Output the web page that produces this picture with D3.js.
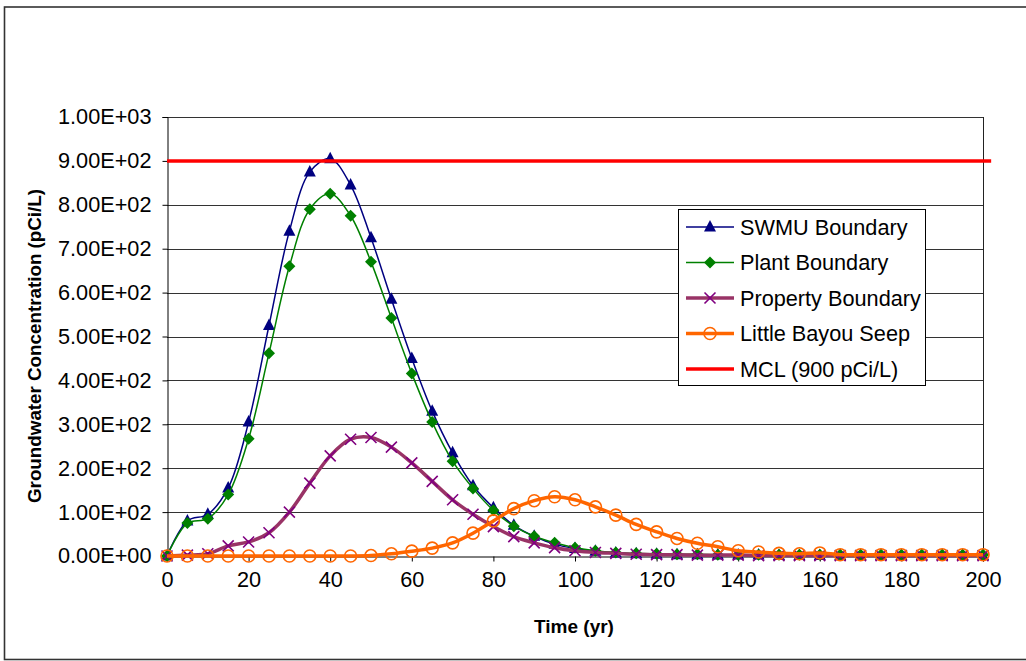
<!DOCTYPE html>
<html>
<head>
<meta charset="utf-8">
<script src="https://cdn.jsdelivr.net/npm/d3@7"></script>
<style>
  html, body { margin: 0; padding: 0; background: #fff; }
  svg { display: block; font-family: "Liberation Sans", Arial, sans-serif; }
</style>
</head>
<body>
<svg id="chart" width="1026" height="661"></svg>
<script>
// ---- Data ----
const years = d3.range(0, 201, 5);
const swmu = [0, 80, 95, 155, 305, 525, 740, 875, 905, 845, 725, 585, 450, 330, 235, 160, 110, 70, 45, 27, 17, 11, 7, 5, 4, 3, 3, 2, 2, 2, 1, 1, 1, 1, 1, 1, 1, 1, 1, 1, 1];
const plant = [0, 75, 85, 140, 267, 462, 660, 790, 825, 775, 670, 542, 416, 305, 216, 154, 104, 68, 45, 30, 19, 12, 8, 6, 5, 4, 4, 3, 3, 3, 3, 3, 3, 3, 3, 3, 3, 3, 3, 3, 3];
const property = [0, 2, 5, 23, 32, 53, 100, 166, 228, 266, 270, 248, 212, 170, 128, 95, 67, 44, 30, 19, 12, 8, 6, 4, 3, 3, 2, 2, 2, 1, 1, 1, 1, 1, 1, 1, 1, 1, 1, 1, 1];
const bayou = [0, 0, 0, 0, 0, 0, 0, 0, 0, 0, 1, 5, 11, 18, 30, 52, 80, 108, 126, 135, 128, 112, 93, 72, 55, 40, 29, 21, 12, 9, 6, 5, 7, 3, 3, 3, 3, 3, 3, 3, 3];
const mclYears = [0, 202];
const mclValues = [900, 900];
const seriesNames = ["SWMU Boundary", "Plant Boundary", "Property Boundary", "Little Bayou Seep", "MCL (900 pCi/L)"];
const xTickValues = [0, 20, 40, 60, 80, 100, 120, 140, 160, 180, 200];
const yTickValues = [0, 100, 200, 300, 400, 500, 600, 700, 800, 900, 1000];
const yTickLabels = ["0.00E+00", "1.00E+02", "2.00E+02", "3.00E+02", "4.00E+02", "5.00E+02", "6.00E+02", "7.00E+02", "8.00E+02", "9.00E+02", "1.00E+03"];
const xTitle = "Time (yr)";
const yTitle = "Groundwater Concentration (pCi/L)";

// ---- Layout ----
const svg = d3.select("#chart");
const L = 167, R = 983, T = 117, B = 556;
const x = d3.scaleLinear().domain([0, 200]).range([L, R]);
const y = d3.scaleLinear().domain([0, 1000]).range([B, T]);
const FS = 21.7;

// outer border
svg.append("rect").attr("x", 4.5).attr("y", 7).attr("width", 1030).attr("height", 652.5)
  .attr("fill", "none").attr("stroke", "#333").attr("stroke-width", 1.6);

// gridlines
svg.append("g").selectAll("line").data(yTickValues.slice(1)).join("line")
  .attr("x1", L).attr("x2", R)
  .attr("y1", d => Math.round(y(d)) + 0.5).attr("y2", d => Math.round(y(d)) + 0.5)
  .attr("stroke", "#333").attr("stroke-width", 1);
// right border of plot
svg.append("line").attr("x1", R + 0.5).attr("x2", R + 0.5).attr("y1", T).attr("y2", B)
  .attr("stroke", "#222").attr("stroke-width", 1);

// axes
const yAxis = d3.axisLeft(y).tickValues(yTickValues).tickSize(5).tickPadding(11)
  .tickFormat((d, i) => yTickLabels[i]);
const gy = svg.append("g").attr("transform", `translate(${L + 0.5},0)`).call(yAxis);
gy.select(".domain").attr("stroke", "#000");
gy.selectAll(".tick line").attr("stroke", "#000");
gy.selectAll("text").attr("font-size", FS).attr("fill", "#000")
  .attr("font-family", '"Liberation Sans", Arial, sans-serif');

const xAxis = d3.axisBottom(x).tickValues(xTickValues).tickSize(5).tickPadding(10)
  .tickFormat(d3.format("d"));
const gx = svg.append("g").attr("transform", `translate(0,${B + 0.5})`).call(xAxis);
gx.select(".domain").attr("stroke", "#000");
gx.selectAll(".tick line").attr("stroke", "#000");
gx.selectAll("text").attr("font-size", FS).attr("fill", "#000")
  .attr("font-family", '"Liberation Sans", Arial, sans-serif');

// axis titles
svg.append("text").attr("x", (L + R) / 2 - 1).attr("y", 633).attr("text-anchor", "middle")
  .attr("font-size", 19).attr("font-weight", "bold").text(xTitle);
svg.append("text").attr("transform", "translate(41,346) rotate(-90)").attr("text-anchor", "middle")
  .attr("font-size", 18.8).attr("font-weight", "bold").text(yTitle);

// ---- Series ----
const curve = d3.curveCatmullRom.alpha(0.5);
const line = d3.line().x(d => x(d[0])).y(d => y(d[1])).curve(curve);

const styles = [
  { values: swmu, line: "#000080", width: 1.5, marker: "triangle", mcolor: "#000080" },
  { values: plant, line: "#008000", width: 1.5, marker: "diamond", mcolor: "#008000" },
  { values: property, line: "#993366", width: 3.5, marker: "x", mcolor: "#800080" },
  { values: bayou, line: "#FF6600", width: 3.5, marker: "circle", mcolor: "#FF6600" }
];

function drawMarker(g, type, color, cx, cy) {
  if (type === "triangle") {
    g.append("path").attr("d", "M0,-7L6,4.5L-6,4.5Z")
      .attr("transform", `translate(${cx},${cy})`).attr("fill", color);
  } else if (type === "diamond") {
    g.append("path").attr("d", `M0,-6L6,0L0,6L-6,0Z`)
      .attr("transform", `translate(${cx},${cy})`).attr("fill", color);
  } else if (type === "x") {
    g.append("path").attr("d", `M-5.5,-5.5L5.5,5.5M-5.5,5.5L5.5,-5.5`)
      .attr("transform", `translate(${cx},${cy})`).attr("stroke", color).attr("stroke-width", 1.6).attr("fill", "none");
  } else if (type === "circle") {
    g.append("circle").attr("cx", cx).attr("cy", cy).attr("r", 6)
      .attr("fill", "none").attr("stroke", color).attr("stroke-width", 1.6);
  }
}

styles.forEach(s => {
  const g = svg.append("g");
  const pts = years.map((t, i) => [t, s.values[i]]);
  g.append("path").attr("d", line(pts)).attr("fill", "none")
    .attr("stroke", s.line).attr("stroke-width", s.width).attr("stroke-linejoin", "round");
  pts.forEach(p => drawMarker(g, s.marker, s.mcolor, x(p[0]), y(p[1])));
});

// MCL line
svg.append("path").attr("d", d3.line().x(d => x(d[0])).y(d => y(d[1]))(mclYears.map((t, i) => [t, mclValues[i]])))
  .attr("stroke", "#FF0000").attr("stroke-width", 3.5).attr("fill", "none");

// ---- Legend ----
const lg = svg.append("g");
lg.append("rect").attr("x", 678.5).attr("y", 209.5).attr("width", 247).attr("height", 176)
  .attr("fill", "#fff").attr("stroke", "#000").attr("stroke-width", 1);
const legendStyles = styles.concat([{ line: "#FF0000", width: 3.5, marker: null }]);
const ly = d3.scaleLinear().domain([0, 4]).range([227, 369]);
legendStyles.forEach((s, i) => {
  const cy = ly(i);
  lg.append("line").attr("x1", 686).attr("x2", 734).attr("y1", cy).attr("y2", cy)
    .attr("stroke", s.line).attr("stroke-width", s.width);
  if (s.marker) drawMarker(lg, s.marker, s.mcolor, 710, cy);
  lg.append("text").attr("x", 740).attr("y", cy + 7.5).attr("font-size", FS).attr("fill", "#000")
    .text(seriesNames[i]);
});
</script>
</body>
</html>
